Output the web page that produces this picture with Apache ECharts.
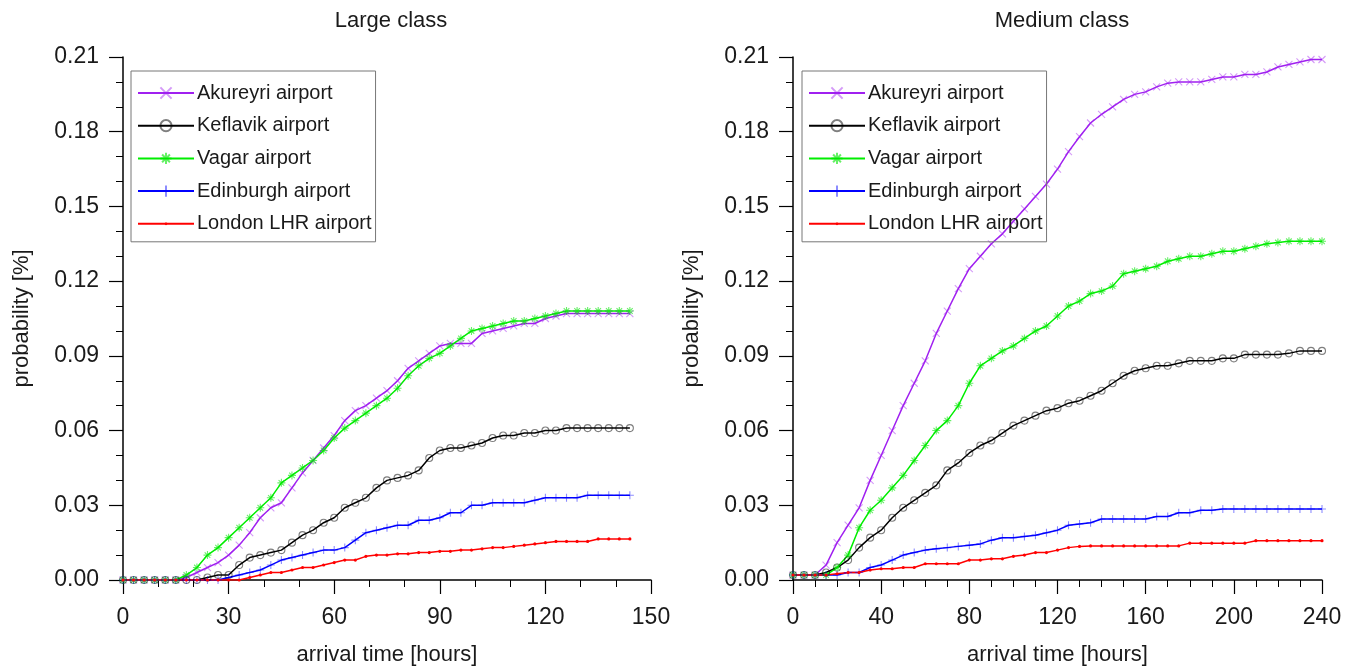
<!DOCTYPE html>
<html>
<head>
<meta charset="utf-8">
<script src="https://cdn.jsdelivr.net/npm/echarts@6/dist/echarts.min.js"></script>
<style>
  html, body { margin: 0; padding: 0; background: #fff; }
  #chart { width: 1354px; height: 671px; }
</style>
</head>
<body>
<div id="chart"></div>
<script>
// arrival time (hours) for each panel
var hoursLarge = [0,3,6,9,12,15,18,21,24,27,30,33,36,39,42,45,48,51,54,57,60,63,66,69,72,75,78,81,84,87,90,93,96,99,102,105,108,111,114,117,120,123,126,129,132,135,138,141,144];
var hoursMedium = [0,5,10,15,20,25,30,35,40,45,50,55,60,65,70,75,80,85,90,95,100,105,110,115,120,125,130,135,140,145,150,155,160,165,170,175,180,185,190,195,200,205,210,215,220,225,230,235,240];

// Large class
var akureyriLarge = [0,0,0,0,0,0,0.001,0.003,0.005,0.007,0.010,0.014,0.019,0.025,0.029,0.031,0.037,0.043,0.048,0.053,0.058,0.064,0.068,0.070,0.073,0.076,0.080,0.085,0.088,0.091,0.094,0.095,0.095,0.095,0.099,0.100,0.101,0.102,0.103,0.103,0.105,0.106,0.107,0.107,0.107,0.107,0.107,0.107,0.107];
var keflavikLarge = [0,0,0,0,0,0,0,0,0.001,0.002,0.002,0.006,0.009,0.010,0.011,0.012,0.015,0.018,0.020,0.023,0.025,0.029,0.031,0.033,0.037,0.040,0.041,0.042,0.044,0.049,0.052,0.053,0.053,0.054,0.055,0.057,0.058,0.058,0.059,0.059,0.060,0.060,0.061,0.061,0.061,0.061,0.061,0.061,0.061];
var vagarLarge = [0,0,0,0,0,0,0.002,0.005,0.010,0.013,0.017,0.021,0.025,0.029,0.033,0.039,0.042,0.045,0.048,0.052,0.057,0.061,0.064,0.067,0.070,0.073,0.077,0.082,0.086,0.089,0.091,0.094,0.097,0.100,0.101,0.102,0.103,0.104,0.104,0.105,0.106,0.107,0.108,0.108,0.108,0.108,0.108,0.108,0.108];
var edinburghLarge = [0,0,0,0,0,0,0,0,0,0,0.001,0.002,0.003,0.004,0.006,0.008,0.009,0.010,0.011,0.012,0.012,0.013,0.016,0.019,0.020,0.021,0.022,0.022,0.024,0.024,0.025,0.027,0.027,0.030,0.030,0.031,0.031,0.031,0.031,0.032,0.033,0.033,0.033,0.033,0.034,0.034,0.034,0.034,0.034];
var londonLarge = [0,0,0,0,0,0,0,0,0,0,0,0,0.001,0.002,0.003,0.003,0.004,0.005,0.005,0.006,0.007,0.008,0.008,0.0095,0.010,0.010,0.0105,0.0105,0.011,0.011,0.0115,0.0115,0.012,0.012,0.0125,0.013,0.013,0.0135,0.014,0.0145,0.015,0.0155,0.0155,0.0155,0.0155,0.0165,0.0165,0.0165,0.0165];

// Medium class
var akureyriMedium = [0.002,0.002,0.002,0.006,0.015,0.022,0.029,0.040,0.050,0.060,0.070,0.079,0.088,0.099,0.108,0.117,0.125,0.130,0.135,0.139,0.144,0.149,0.154,0.159,0.165,0.172,0.178,0.1835,0.187,0.190,0.193,0.195,0.196,0.198,0.1995,0.200,0.200,0.200,0.201,0.202,0.202,0.203,0.203,0.204,0.206,0.207,0.208,0.209,0.209];
var keflavikMedium = [0.002,0.002,0.002,0.003,0.005,0.008,0.013,0.017,0.020,0.025,0.029,0.032,0.035,0.038,0.044,0.047,0.051,0.054,0.056,0.059,0.062,0.064,0.066,0.068,0.069,0.071,0.072,0.074,0.076,0.079,0.082,0.084,0.085,0.086,0.086,0.087,0.088,0.088,0.088,0.089,0.089,0.0905,0.0905,0.0905,0.0905,0.091,0.092,0.092,0.092];
var vagarMedium = [0.002,0.002,0.002,0.002,0.005,0.010,0.021,0.028,0.032,0.037,0.042,0.048,0.054,0.060,0.064,0.070,0.079,0.086,0.089,0.092,0.094,0.097,0.100,0.102,0.106,0.110,0.112,0.115,0.116,0.118,0.123,0.124,0.125,0.126,0.128,0.129,0.130,0.130,0.131,0.132,0.132,0.133,0.134,0.135,0.1355,0.136,0.136,0.136,0.136];
var edinburghMedium = [0.002,0.002,0.002,0.002,0.002,0.003,0.003,0.005,0.006,0.008,0.010,0.011,0.012,0.0125,0.013,0.0135,0.014,0.0145,0.016,0.017,0.017,0.0175,0.018,0.019,0.020,0.022,0.0225,0.023,0.0245,0.0245,0.0245,0.0245,0.0245,0.0255,0.0255,0.027,0.027,0.028,0.028,0.0285,0.0285,0.0285,0.0285,0.0285,0.0285,0.0285,0.0285,0.0285,0.0285];
var londonMedium = [0.002,0.002,0.002,0.002,0.0025,0.003,0.003,0.004,0.0045,0.0045,0.005,0.005,0.0065,0.0065,0.0065,0.0065,0.008,0.008,0.0085,0.0085,0.0095,0.010,0.011,0.011,0.012,0.013,0.0135,0.0137,0.0137,0.0137,0.0137,0.0137,0.0137,0.0137,0.0137,0.0137,0.0148,0.0148,0.0148,0.0148,0.0148,0.0148,0.0158,0.0158,0.0158,0.0158,0.0158,0.0158,0.0158];

var yTicks = [0, 0.21, 0.03];   // min, max, step
var airportNames = ['Akureyri airport', 'Keflavik airport', 'Vagar airport', 'Edinburgh airport', 'London LHR airport'];

var FONT = '"Liberation Sans", Arial, Helvetica, sans-serif';
var TXT = '#1a1a1a';

// marker look for each airport
// the red dot path carries two empty corner points so the dot stays small inside its box
var styles = [
  { line: '#A020F0', mark: 'rgba(160,32,240,0.45)', symbol: 'path://M0,0L10,10M10,0L0,10', size: 7, fill: false },
  { line: '#000000', mark: 'rgba(0,0,0,0.5)', symbol: 'circle', size: 7, fill: false },
  { line: '#00EE00', mark: 'rgba(0,230,0,0.6)', symbol: 'path://M5,0L5,10M0,5L10,5M1.5,1.5L8.5,8.5M8.5,1.5L1.5,8.5', size: 8, fill: false },
  { line: '#0000FF', mark: 'rgba(0,0,255,0.45)', symbol: 'path://M5,0L5,10M0,5L10,5', size: 8, fill: false },
  { line: '#FF0000', mark: '#FF0000', symbol: 'path://M0,0L0,0M10,10L10,10M5,3.8A1.2,1.2 0 1,1 5,6.2A1.2,1.2 0 1,1 5,3.8Z', size: 13, fill: true }
];

function pairs(xs, ys) {
  var out = [];
  for (var i = 0; i < xs.length; i++) out.push([xs[i], ys[i]]);
  return out;
}

function makeSeries(idx, gridIdx, xs, ys) {
  var s = styles[idx];
  return {
    name: airportNames[idx],
    type: 'line',
    xAxisIndex: gridIdx,
    yAxisIndex: gridIdx,
    data: pairs(xs, ys),
    symbol: s.symbol,
    symbolSize: s.size,
    showSymbol: true,
    lineStyle: { color: s.line, width: 1.5 },
    itemStyle: {
      color: s.fill ? s.mark : 'rgba(0,0,0,0)',
      borderColor: s.mark,
      borderWidth: s.fill ? 0 : 1.1
    }
  };
}

function xAxisCfg(gridIdx, max, step, minorSplit) {
  return {
    type: 'value', gridIndex: gridIdx, min: 0, max: max, interval: step,
    name: 'arrival time [hours]', nameLocation: 'middle', nameGap: 64,
    nameTextStyle: { fontSize: 22, color: TXT, fontFamily: FONT },
    axisLine: { show: true, onZero: false, lineStyle: { color: '#000', width: 1.5 } },
    axisTick: { show: true, length: 14, lineStyle: { color: '#000', width: 1.2 } },
    minorTick: { show: true, splitNumber: minorSplit, length: 7, lineStyle: { color: '#000', width: 1 } },
    splitLine: { show: false },
    axisLabel: { fontSize: 23, color: TXT, fontFamily: FONT, margin: 26 }
  };
}

function yAxisCfg(gridIdx) {
  return {
    type: 'value', gridIndex: gridIdx, min: yTicks[0], max: yTicks[1], interval: yTicks[2],
    name: 'probability [%]', nameLocation: 'middle', nameGap: 90,
    nameTextStyle: { fontSize: 22, color: TXT, fontFamily: FONT },
    axisLine: { show: true, lineStyle: { color: '#000', width: 1.5 } },
    axisTick: { show: true, length: 14, lineStyle: { color: '#000', width: 1.2 } },
    minorTick: { show: true, splitNumber: 3, length: 7, lineStyle: { color: '#000', width: 1 } },
    splitLine: { show: false },
    axisLabel: { fontSize: 23, color: TXT, fontFamily: FONT, margin: 24,
      formatter: function (v) { return v.toFixed(2); } }
  };
}

function legendCfg(left) {
  return {
    data: airportNames,
    orient: 'vertical',
    left: left, top: 71,
    itemWidth: 56, itemHeight: 14, itemGap: 12.7,
    padding: [12, 4, 8, 6],
    borderColor: '#777', borderWidth: 1,
    textStyle: { fontSize: 20, color: TXT, fontFamily: FONT, padding: [0, 0, 0, -2] },
    selectedMode: false
  };
}

var chart = echarts.init(document.getElementById('chart'));

var series = [];
var largeData = [akureyriLarge, keflavikLarge, vagarLarge, edinburghLarge, londonLarge];
var mediumData = [akureyriMedium, keflavikMedium, vagarMedium, edinburghMedium, londonMedium];
for (var i = 0; i < 5; i++) series.push(makeSeries(i, 0, hoursLarge, largeData[i]));
for (var j = 0; j < 5; j++) series.push(makeSeries(j, 1, hoursMedium, mediumData[j]));

chart.setOption({
  animation: false,
  backgroundColor: '#fff',
  title: [
    { text: 'Large class', left: 386, top: 5, textAlign: 'center',
      textStyle: { fontSize: 22, fontWeight: 'normal', color: TXT, fontFamily: FONT } },
    { text: 'Medium class', left: 1057, top: 5, textAlign: 'center',
      textStyle: { fontSize: 22, fontWeight: 'normal', color: TXT, fontFamily: FONT } }
  ],
  legend: [legendCfg(131), legendCfg(802)],
  grid: [
    { left: 123, top: 57, width: 528, height: 526 },
    { left: 793, top: 57, width: 529, height: 526 }
  ],
  xAxis: [xAxisCfg(0, 150, 30, 3), xAxisCfg(1, 240, 40, 4)],
  yAxis: [yAxisCfg(0), yAxisCfg(1)],
  series: series
});
</script>
</body>
</html>
